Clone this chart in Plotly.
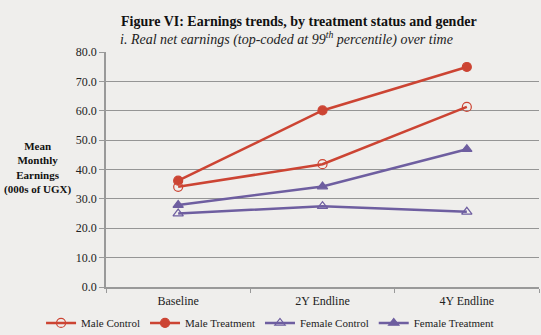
import plotly.graph_objects as go

waves = ["Baseline", "2Y Endline", "4Y Endline"]
male_control = [34.1, 41.8, 61.3]
male_treatment = [36.2, 60.1, 74.9]
female_control = [25.0, 27.5, 25.6]
female_treatment = [27.9, 34.2, 46.9]
y_ticks = [0, 10, 20, 30, 40, 50, 60, 70, 80]

RED = "#cc4433"
PURPLE = "#6e5ea0"
BG = "#efeeec"
SERIF = "Liberation Serif, Times New Roman, serif"

fig = go.Figure()
series = [
    ("Male Control", male_control, RED, "circle-open"),
    ("Male Treatment", male_treatment, RED, "circle"),
    ("Female Control", female_control, PURPLE, "triangle-up-open"),
    ("Female Treatment", female_treatment, PURPLE, "triangle-up"),
]
for name, vals, color, sym in series:
    fig.add_trace(go.Scatter(
        x=waves, y=vals, name=name, mode="lines+markers",
        line=dict(color=color, width=2.5),
        marker=dict(symbol=sym, size=9, color=color,
                    line=dict(color=color, width=1.2)),
    ))

fig.update_layout(
    width=541, height=335,
    margin=dict(l=106, r=2, t=52, b=48, autoexpand=False),
    paper_bgcolor=BG, plot_bgcolor=BG,
    font=dict(family=SERIF, size=12, color="#222"),
    showlegend=True,
    legend=dict(orientation="h", x=-0.150, xanchor="left", y=-0.153,
                yanchor="middle", font=dict(size=11, family=SERIF, color="#222"),
                bgcolor="rgba(0,0,0,0)", tracegroupgap=0),
)
fig.update_xaxes(
    type="category", tickson="boundaries", ticks="outside", ticklen=4,
    tickcolor="#999", showline=True, linecolor="#999", linewidth=1.5,
    showgrid=False, range=[-0.5, 2.5], tickfont=dict(size=12, color="#222"),
    ticklabelstandoff=2,
)
fig.update_yaxes(
    range=[0, 80], tickvals=y_ticks,
    ticktext=[f"{v:.1f}" for v in y_ticks],
    ticks="outside", ticklen=5, tickcolor="#999",
    showline=True, linecolor="#999", linewidth=1.5,
    showgrid=True, gridcolor="#959595", gridwidth=1,
    zeroline=False, tickfont=dict(size=12, color="#222"),
)

fig.add_annotation(
    text="<b>Figure VI: Earnings trends, by treatment status and gender</b>",
    xref="paper", yref="paper", x=0.446, y=1.0, yshift=31,
    xanchor="center", yanchor="middle", showarrow=False,
    font=dict(size=14, family=SERIF, color="#111"),
)
fig.add_annotation(
    text="<i>i. Real net earnings (top-coded at 99<sup>th</sup> percentile) over time</i>",
    xref="paper", yref="paper", x=0.417, y=1.0, yshift=14,
    xanchor="center", yanchor="middle", showarrow=False,
    font=dict(size=14, family=SERIF, color="#222"),
)
fig.add_annotation(
    text="<b>Mean<br>Monthly<br>Earnings<br>(000s of UGX)</b>",
    xref="paper", yref="paper", x=-0.157, y=0.506,
    xanchor="center", yanchor="middle", showarrow=False,
    font=dict(size=11, family=SERIF, color="#111"),
)

fig.write_html("out.html")
